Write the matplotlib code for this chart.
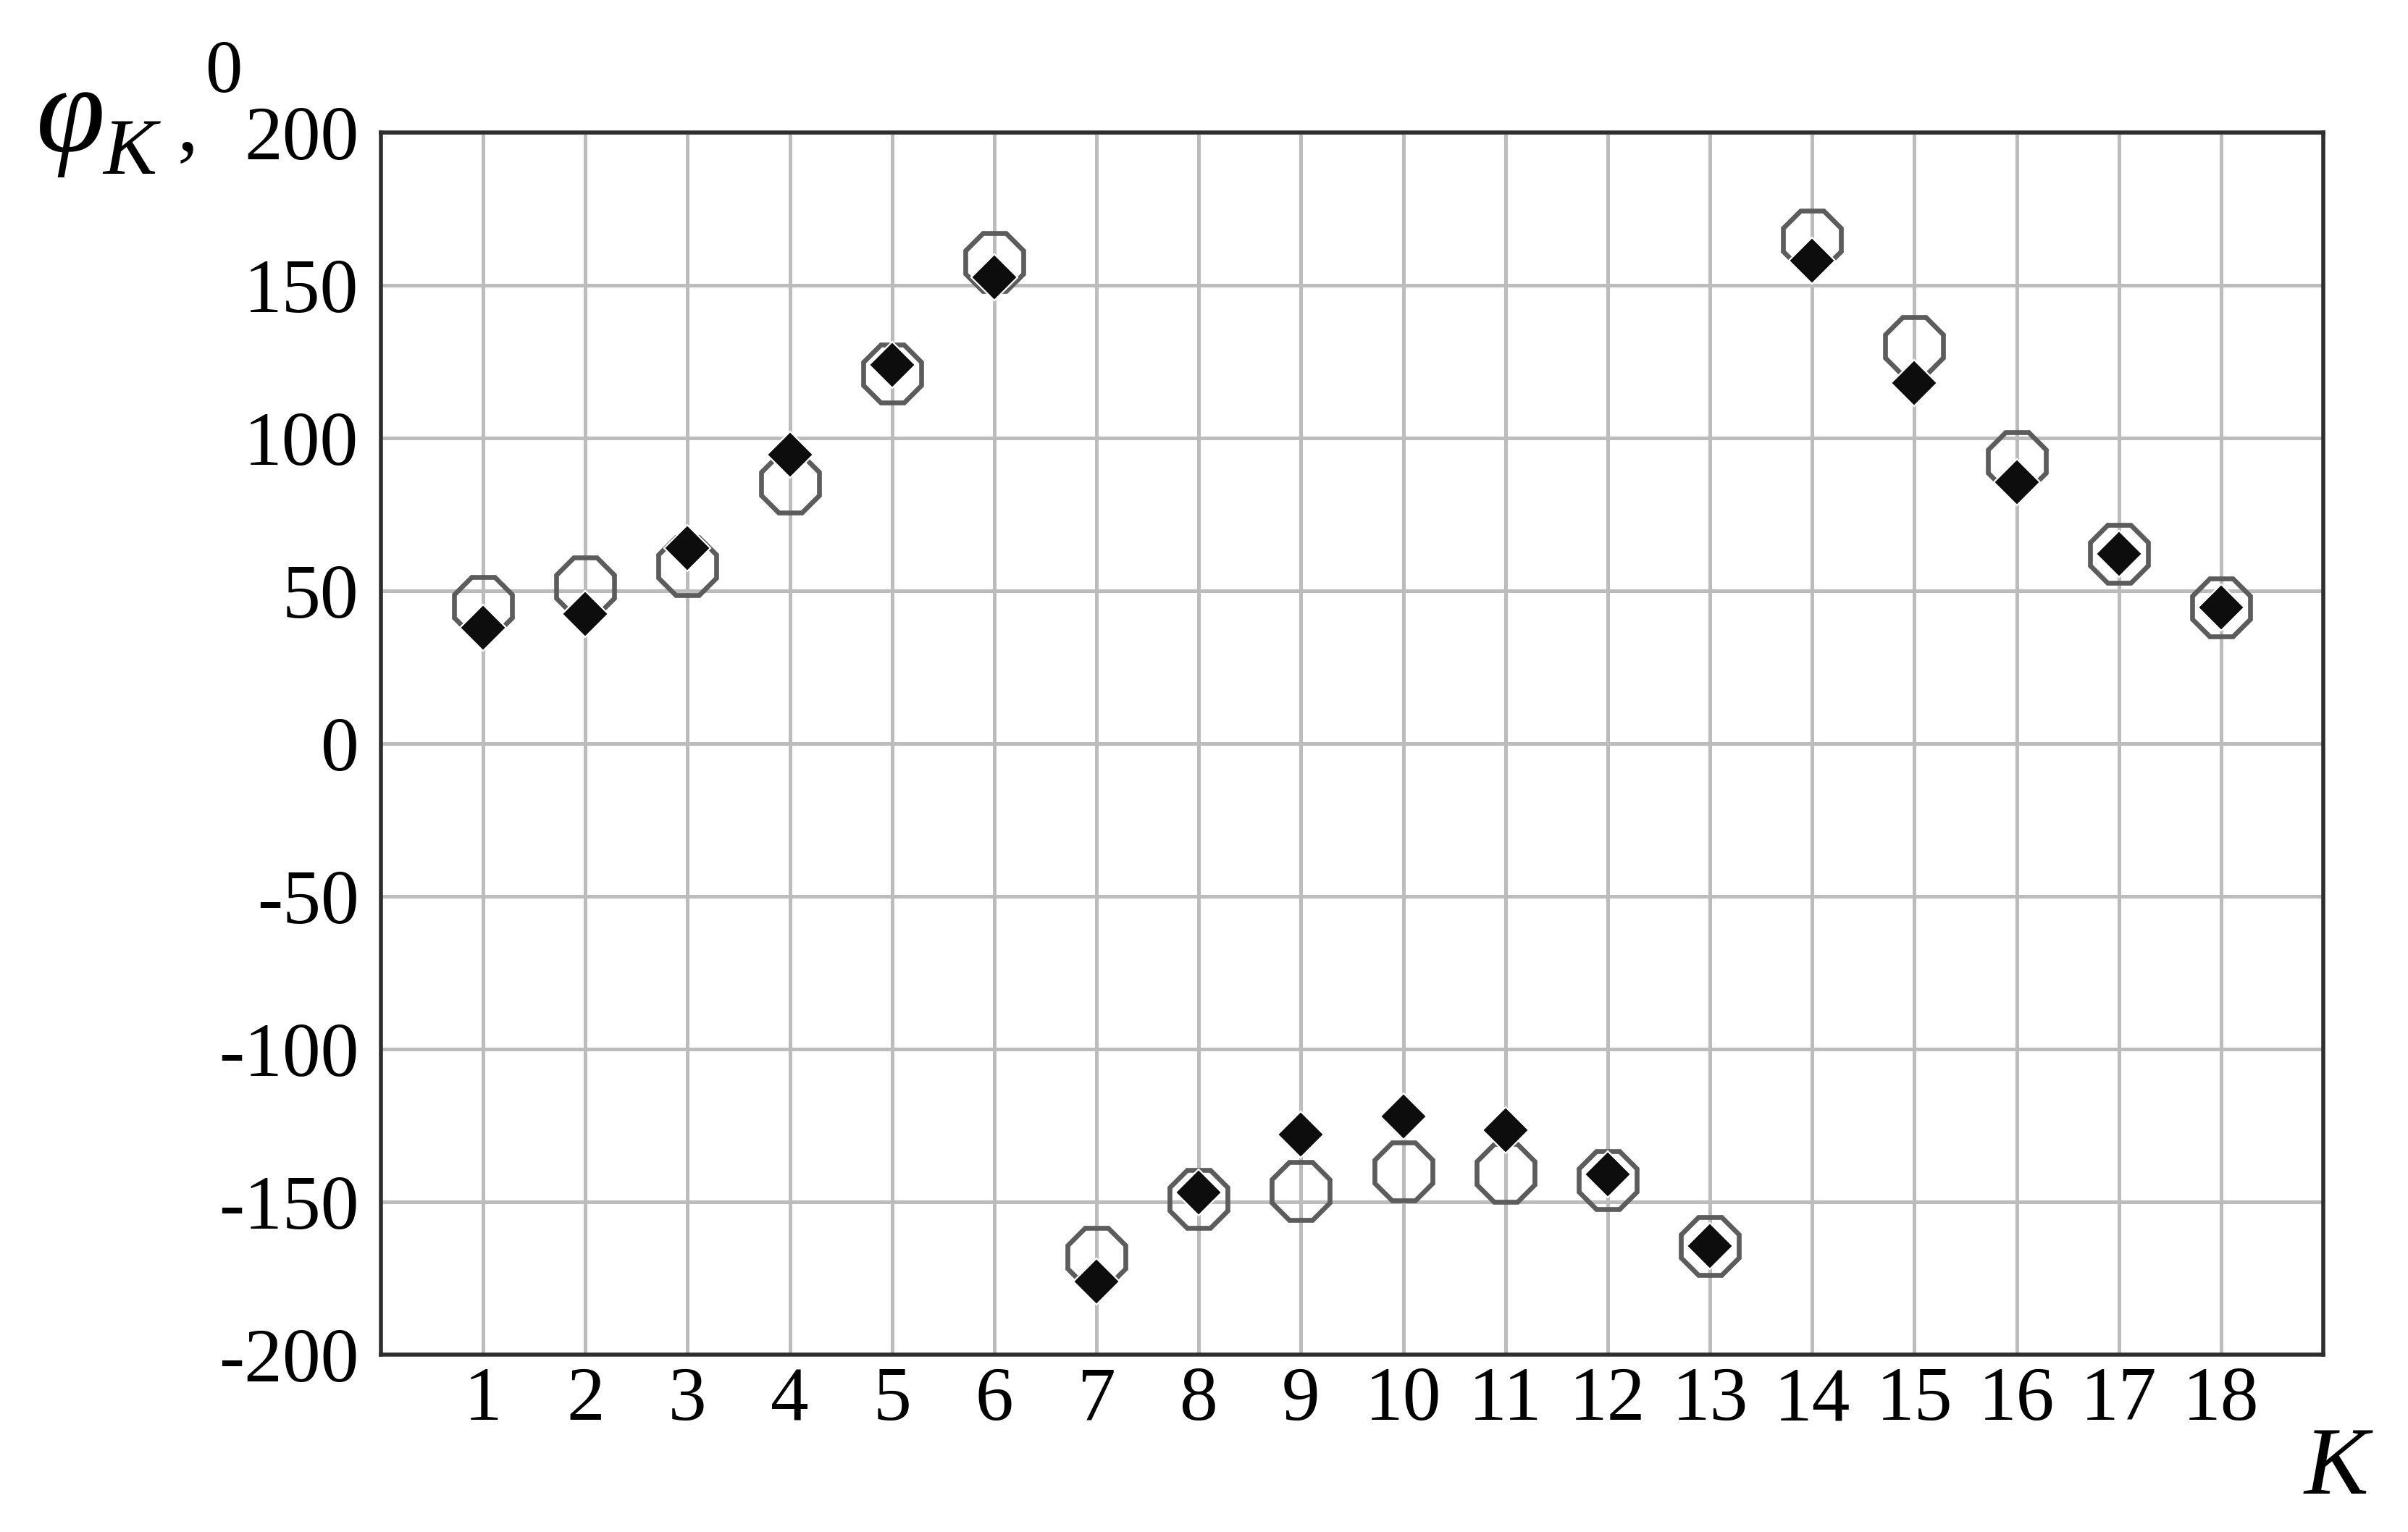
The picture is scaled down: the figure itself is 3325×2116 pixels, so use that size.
import matplotlib
matplotlib.use("Agg")
import matplotlib.pyplot as plt
import numpy as np

K = list(range(1, 19))
phi_circles = [45, 51.5, 58, 85, 121, 157.5, -168, -149, -146.5, -140, -140.5, -143, -164.5, 165, 130, 92.5, 62, 44.5]
phi_diamonds = [38, 42.5, 64, 94.5, 124, 152.5, -176, -147, -128, -122, -126.5, -141, -164.5, 158, 118, 85.5, 62, 44.5]
yticks = [-200, -150, -100, -50, 0, 50, 100, 150, 200]

W, H = 3325, 2116
DPI = 200
fig = plt.figure(figsize=(W / DPI, H / DPI), dpi=DPI)
L, R, T, B = 526, 3208, 183, 1871
ax = fig.add_axes([L / W, 1 - B / H, (R - L) / W, (B - T) / H])

serif = "Liberation Serif"

ax.set_xlim(0, 19)
ax.set_ylim(-200, 200)
ax.set_xticks(K)
ax.set_yticks(yticks)
ax.set_xticklabels([str(k) for k in K], fontfamily=serif, fontsize=38)
ax.set_yticklabels([str(v) for v in yticks], fontfamily=serif, fontsize=38)
ax.tick_params(axis="both", length=0)
ax.tick_params(axis="x", pad=6)
ax.tick_params(axis="y", pad=11)
ax.grid(True, color="#bcbcbc", linewidth=1.8)
ax.set_axisbelow(True)
for s in ax.spines.values():
    s.set_color("#2e2e2e")
    s.set_linewidth(2.0)

ax.plot(K, phi_circles, linestyle="none", marker="8", markersize=31,
        markerfacecolor="none", markeredgecolor="#5c5c5c", markeredgewidth=2.4, zorder=3)
ax.plot(K, phi_diamonds, linestyle="none", marker="D", markersize=16.5,
        markerfacecolor="#0d0d0d", markeredgecolor="white", markeredgewidth=0.8, zorder=4)

def fx(px):
    return px / W

def fy(py):
    return 1 - py / H

fig.text(fx(50), fy(208), "φ", fontfamily=serif, style="italic", fontsize=62, va="baseline", ha="left")
fig.text(fx(142), fy(240), "K", fontfamily=serif, style="italic", fontsize=40, va="baseline", ha="left")
fig.text(fx(245), fy(207), ",", fontfamily=serif, fontsize=42, va="baseline", ha="left")
fig.text(fx(283), fy(127), "0", fontfamily=serif, fontsize=37, va="baseline", ha="left")
fig.text(fx(3182), fy(2063), "K", fontfamily=serif, style="italic", fontsize=48, va="baseline", ha="left")

fig.savefig("out.png", dpi=DPI)
